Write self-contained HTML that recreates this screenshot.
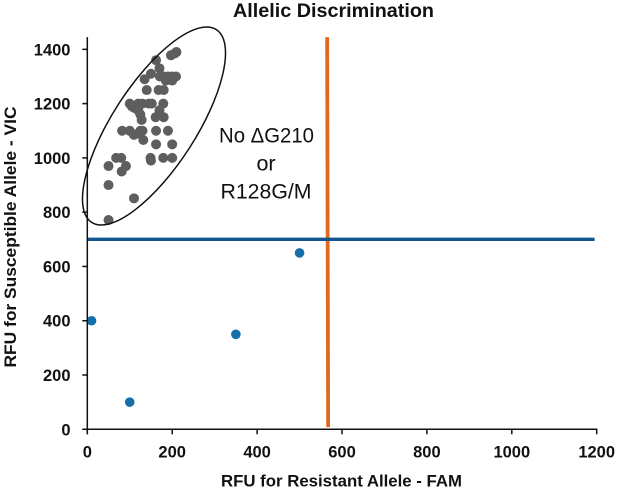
<!DOCTYPE html>
<html>
<head>
<meta charset="utf-8">
<title>Allelic Discrimination</title>
<style>
html,body{margin:0;padding:0;background:#fff;}
svg{display:block;}
text{font-family:"Liberation Sans",sans-serif;fill:#111;}
</style>
</head>
<body>
<svg id="chart" width="617" height="490" viewBox="0 0 617 490" xmlns="http://www.w3.org/2000/svg">
  <rect width="617" height="490" fill="#fff"/>
  <text x="333.5" y="17" text-anchor="middle" font-size="19.5" font-weight="bold" textLength="201" lengthAdjust="spacingAndGlyphs">Allelic Discrimination</text>
  <text x="341.5" y="486.5" text-anchor="middle" font-size="17" font-weight="bold" textLength="241" lengthAdjust="spacingAndGlyphs">RFU for Resistant Allele - FAM</text>
  <text transform="translate(16,237) rotate(-90)" text-anchor="middle" font-size="17" font-weight="bold" textLength="261" lengthAdjust="spacingAndGlyphs">RFU for Susceptible Allele - VIC</text>
  <g id="marks"></g>
  <g id="axes"></g>
  <ellipse cx="154" cy="126" rx="114.8" ry="41.7" transform="rotate(-57.1 154 126)" fill="none" stroke="#111" stroke-width="1.5"/>
  <g font-size="21.5">
    <text x="266.5" y="142.5" text-anchor="middle" textLength="95" lengthAdjust="spacingAndGlyphs">No ΔG210</text>
    <text x="266" y="170.5" text-anchor="middle">or</text>
    <text x="266" y="198.5" text-anchor="middle" textLength="91" lengthAdjust="spacingAndGlyphs">R128G/M</text>
  </g>
</svg>
<script>
var xTicks = [0, 200, 400, 600, 800, 1000, 1200];
var yTicks = [0, 200, 400, 600, 800, 1000, 1200, 1400];
var wildTypeX = [50,110,50,50,81,91,68,80,149,150,179,200,162,200,82,100,110,125,130,132,120,162,190,161,180,128,100,110,120,130,145,152,179,170,105,120,125,140,168,180,135,150,170,162,171,180,190,200,209,185,200,197,210,206];
var wildTypeY = [771,851,900,970,950,970,1000,1000,1000,990,1000,1000,1050,1050,1100,1100,1085,1100,1100,1066,1090,1100,1100,1150,1150,1140,1200,1185,1200,1200,1200,1200,1200,1175,1190,1175,1160,1250,1250,1250,1290,1310,1330,1360,1300,1300,1300,1300,1300,1285,1285,1378,1390,1385];
var otherX = [10,100,350,500];
var otherY = [400,100,350,650];
var cutoffX = [565];
var cutoffY = [700];

var NS = 'http://www.w3.org/2000/svg';
var X0 = 87.3, XU = 0.4245, Y0 = 429.3, YU = 0.2714;
function sx(v){ return X0 + v * XU; }
function sy(v){ return Y0 - v * YU; }
function make(tag, attrs, parent){
  var el = document.createElementNS(NS, tag);
  for (var k in attrs) el.setAttribute(k, attrs[k]);
  parent.appendChild(el);
  return el;
}
var marks = document.getElementById('marks');
var axes = document.getElementById('axes');

wildTypeX.forEach(function(v, i){
  var c = make('circle', {cx: sx(v), cy: sy(wildTypeY[i]), r: 5, fill: '#5e5e5e'}, marks);
  
  
});
otherX.forEach(function(v, i){
  var c = make('circle', {cx: sx(v), cy: sy(otherY[i]), r: 4.8, fill: '#146fab'}, marks);
  
  
});

var hLine = make('line', {x1: sx(0), x2: sx(1195), y1: sy(cutoffY[0]), y2: sy(cutoffY[0]), stroke: '#10558f', 'stroke-width': 3.4}, marks);


var vLine = make('line', {x1: sx(cutoffX[0]), x2: sx(cutoffX[0]) + 1, y1: sy(1445), y2: sy(8), stroke: '#dd6a1f', 'stroke-width': 3.8}, marks);


// blue line passes over the orange line at the crossing
marks.appendChild(hLine);

var xAxis = make('line', {x1: sx(0) - 5, x2: sx(1200) + 0.7, y1: sy(0), y2: sy(0), stroke: '#111', 'stroke-width': 1.5}, axes);


var yAxis = make('line', {x1: sx(0), x2: sx(0), y1: sy(1445), y2: sy(0) + 5, stroke: '#111', 'stroke-width': 1.5}, axes);



xTicks.forEach(function(v){
  var t = make('line', {x1: sx(v), x2: sx(v), y1: sy(0), y2: sy(0) + 5, stroke: '#111', 'stroke-width': 1.5}, axes);
  
  
  var l = make('text', {x: sx(v), y: 457.5, 'text-anchor': 'middle', 'font-size': 16.5, 'font-weight': 'bold'}, axes);
  
  
  l.textContent = v;
});
yTicks.forEach(function(v){
  var t = make('line', {x1: sx(0) - 5, x2: sx(0), y1: sy(v), y2: sy(v), stroke: '#111', 'stroke-width': 1.5}, axes);
  
  
  var l = make('text', {x: 70.5, y: sy(v) + 6, 'text-anchor': 'end', 'font-size': 16.5, 'font-weight': 'bold'}, axes);
  
  
  l.textContent = v;
});
</script>
</body>
</html>
